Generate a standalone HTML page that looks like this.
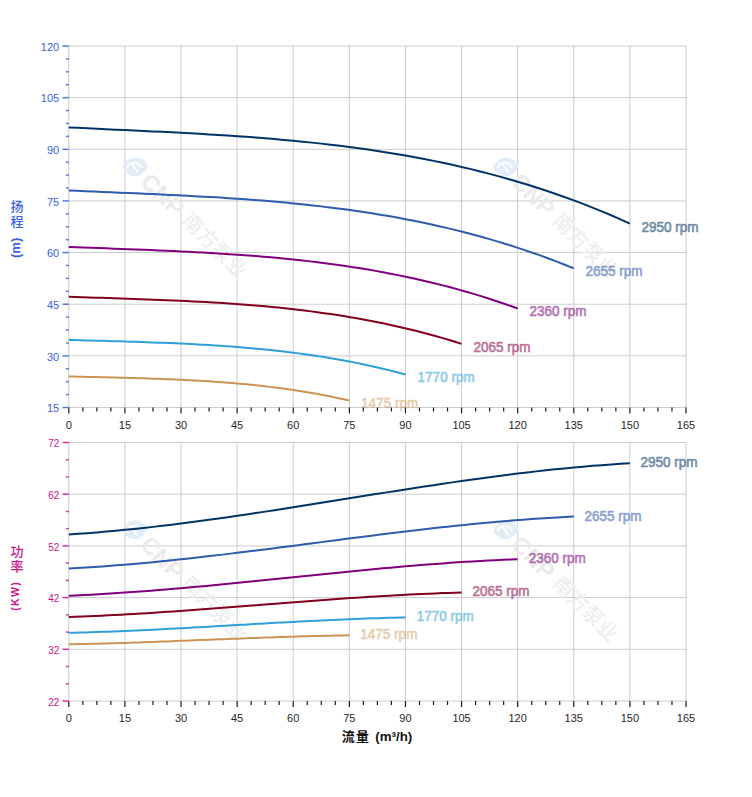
<!DOCTYPE html>
<html><head><meta charset="utf-8"><title>pump curves</title>
<style>html,body{margin:0;padding:0;background:#fff;}svg{display:block;}</style>
</head><body>
<svg width="752" height="797" viewBox="0 0 752 797">
<rect width="752" height="797" fill="#ffffff"/>
<g stroke="#cccccc" stroke-width="1"><line x1="68.30" y1="46.00" x2="686.50" y2="46.00"/><line x1="68.30" y1="97.64" x2="686.50" y2="97.64"/><line x1="68.30" y1="149.29" x2="686.50" y2="149.29"/><line x1="68.30" y1="200.93" x2="686.50" y2="200.93"/><line x1="68.30" y1="252.57" x2="686.50" y2="252.57"/><line x1="68.30" y1="304.21" x2="686.50" y2="304.21"/><line x1="68.30" y1="355.86" x2="686.50" y2="355.86"/><line x1="68.30" y1="407.50" x2="686.50" y2="407.50"/><line x1="68.80" y1="46.00" x2="68.80" y2="407.50"/><line x1="124.91" y1="46.00" x2="124.91" y2="407.50"/><line x1="181.02" y1="46.00" x2="181.02" y2="407.50"/><line x1="237.13" y1="46.00" x2="237.13" y2="407.50"/><line x1="293.24" y1="46.00" x2="293.24" y2="407.50"/><line x1="349.35" y1="46.00" x2="349.35" y2="407.50"/><line x1="405.45" y1="46.00" x2="405.45" y2="407.50"/><line x1="461.56" y1="46.00" x2="461.56" y2="407.50"/><line x1="517.67" y1="46.00" x2="517.67" y2="407.50"/><line x1="573.78" y1="46.00" x2="573.78" y2="407.50"/><line x1="629.89" y1="46.00" x2="629.89" y2="407.50"/><line x1="686.00" y1="46.00" x2="686.00" y2="407.50"/></g>
<g transform="translate(135.2 166.8)">
<path d="M-13 0.5 Q-7 -9.5 0 -9.5 Q9 -9.5 13 -0.5 Q7 9.5 0 9.5 Q-9 9.5 -13 0.5 Z" fill="#e3edf8"/>
<g fill="none" stroke="#ffffff" stroke-width="1.9" stroke-linecap="round"><path d="M-8 0.8 C-6.5 -5.2 3.5 -5.6 5.6 0.2"/><path d="M-3 -2.6 L2 4.8"/></g>
<g transform="rotate(45)">
<text x="14.4" y="8.6" font-family="Liberation Sans, sans-serif" font-weight="bold" font-size="23.5" fill="#ebebeb">CNP</text>
<text x="71" y="6.8" font-family="Noto Sans CJK SC, sans-serif" font-weight="500" font-size="20.5" fill="#eeeeee">南方泵业</text>
</g></g>
<g transform="translate(505.8 166.8)">
<path d="M-13 0.5 Q-7 -9.5 0 -9.5 Q9 -9.5 13 -0.5 Q7 9.5 0 9.5 Q-9 9.5 -13 0.5 Z" fill="#e3edf8"/>
<g fill="none" stroke="#ffffff" stroke-width="1.9" stroke-linecap="round"><path d="M-8 0.8 C-6.5 -5.2 3.5 -5.6 5.6 0.2"/><path d="M-3 -2.6 L2 4.8"/></g>
<g transform="rotate(45)">
<text x="14.4" y="8.6" font-family="Liberation Sans, sans-serif" font-weight="bold" font-size="23.5" fill="#ebebeb">CNP</text>
<text x="71" y="6.8" font-family="Noto Sans CJK SC, sans-serif" font-weight="500" font-size="20.5" fill="#eeeeee">南方泵业</text>
</g></g>
<path d="M68.80 127.40 L78.15 127.86 L87.50 128.32 L96.85 128.76 L106.21 129.21 L115.56 129.64 L124.91 130.08 L134.26 130.52 L143.61 130.96 L152.96 131.41 L162.32 131.87 L171.67 132.35 L181.02 132.83 L190.37 133.34 L199.72 133.86 L209.07 134.41 L218.42 134.98 L227.78 135.58 L237.13 136.21 L246.48 136.87 L255.83 137.56 L265.18 138.30 L274.53 139.07 L283.88 139.89 L293.24 140.75 L302.59 141.66 L311.94 142.62 L321.29 143.63 L330.64 144.70 L339.99 145.83 L349.35 147.02 L358.70 148.27 L368.05 149.59 L377.40 150.97 L386.75 152.43 L396.10 153.96 L405.45 155.56 L414.81 157.25 L424.16 159.01 L433.51 160.86 L442.86 162.80 L452.21 164.82 L461.56 166.94 L470.92 169.15 L480.27 171.45 L489.62 173.86 L498.97 176.36 L508.32 178.97 L517.67 181.69 L527.02 184.52 L536.38 187.46 L545.73 190.51 L555.08 193.68 L564.43 196.97 L573.78 200.38 L583.13 203.91 L592.48 207.58 L601.84 211.37 L611.19 215.29 L620.54 219.35 L629.89 223.55" fill="none" stroke="#003366" stroke-width="2" stroke-linejoin="round" stroke-linecap="butt"/>
<path d="M68.80 190.49 L77.22 190.86 L85.63 191.23 L94.05 191.59 L102.47 191.95 L110.88 192.31 L119.30 192.66 L127.71 193.02 L136.13 193.37 L144.55 193.74 L152.96 194.11 L161.38 194.49 L169.80 194.89 L178.21 195.30 L186.63 195.72 L195.05 196.16 L203.46 196.63 L211.88 197.11 L220.29 197.62 L228.71 198.16 L237.13 198.72 L245.54 199.31 L253.96 199.94 L262.38 200.60 L270.79 201.30 L279.21 202.04 L287.63 202.82 L296.04 203.64 L304.46 204.50 L312.87 205.42 L321.29 206.38 L329.71 207.39 L338.12 208.46 L346.54 209.58 L354.96 210.76 L363.37 212.00 L371.79 213.30 L380.21 214.66 L388.62 216.09 L397.04 217.59 L405.45 219.16 L413.87 220.80 L422.29 222.51 L430.70 224.30 L439.12 226.17 L447.54 228.12 L455.95 230.15 L464.37 232.26 L472.79 234.46 L481.20 236.75 L489.62 239.13 L498.03 241.61 L506.45 244.17 L514.87 246.84 L523.28 249.60 L531.70 252.46 L540.12 255.43 L548.53 258.50 L556.95 261.68 L565.37 264.97 L573.78 268.37" fill="none" stroke="#2f5bae" stroke-width="2" stroke-linejoin="round" stroke-linecap="butt"/>
<path d="M68.80 246.93 L76.28 247.23 L83.76 247.52 L91.24 247.81 L98.72 248.09 L106.21 248.37 L113.69 248.65 L121.17 248.93 L128.65 249.22 L136.13 249.50 L143.61 249.80 L151.09 250.10 L158.57 250.41 L166.06 250.74 L173.54 251.07 L181.02 251.42 L188.50 251.79 L195.98 252.17 L203.46 252.57 L210.94 252.99 L218.42 253.44 L225.91 253.91 L233.39 254.40 L240.87 254.93 L248.35 255.48 L255.83 256.06 L263.31 256.68 L270.79 257.32 L278.27 258.01 L285.76 258.73 L293.24 259.49 L300.72 260.29 L308.20 261.13 L315.68 262.02 L323.16 262.95 L330.64 263.93 L338.12 264.96 L345.60 266.04 L353.09 267.17 L360.57 268.35 L368.05 269.59 L375.53 270.88 L383.01 272.24 L390.49 273.65 L397.97 275.13 L405.45 276.67 L412.94 278.27 L420.42 279.94 L427.90 281.68 L435.38 283.49 L442.86 285.37 L450.34 287.32 L457.82 289.35 L465.30 291.46 L472.79 293.64 L480.27 295.90 L487.75 298.25 L495.23 300.68 L502.71 303.19 L510.19 305.79 L517.67 308.47" fill="none" stroke="#800080" stroke-width="2" stroke-linejoin="round" stroke-linecap="butt"/>
<path d="M68.80 296.74 L75.35 296.97 L81.89 297.19 L88.44 297.41 L94.98 297.63 L101.53 297.84 L108.08 298.06 L114.62 298.27 L121.17 298.49 L127.71 298.71 L134.26 298.93 L140.81 299.17 L147.35 299.40 L153.90 299.65 L160.44 299.91 L166.99 300.18 L173.54 300.46 L180.08 300.75 L186.63 301.06 L193.18 301.38 L199.72 301.72 L206.27 302.08 L212.81 302.46 L219.36 302.86 L225.91 303.28 L232.45 303.73 L239.00 304.20 L245.54 304.70 L252.09 305.22 L258.64 305.77 L265.18 306.35 L271.73 306.97 L278.27 307.61 L284.82 308.29 L291.37 309.01 L297.91 309.75 L304.46 310.54 L311.00 311.37 L317.55 312.23 L324.10 313.14 L330.64 314.09 L337.19 315.08 L343.73 316.11 L350.28 317.20 L356.83 318.33 L363.37 319.51 L369.92 320.73 L376.46 322.01 L383.01 323.34 L389.56 324.73 L396.10 326.17 L402.65 327.66 L409.20 329.22 L415.74 330.83 L422.29 332.50 L428.83 334.23 L435.38 336.03 L441.93 337.89 L448.47 339.81 L455.02 341.80 L461.56 343.86" fill="none" stroke="#830020" stroke-width="2" stroke-linejoin="round" stroke-linecap="butt"/>
<path d="M68.80 339.91 L74.41 340.07 L80.02 340.24 L85.63 340.40 L91.24 340.56 L96.85 340.72 L102.47 340.87 L108.08 341.03 L113.69 341.19 L119.30 341.35 L124.91 341.52 L130.52 341.69 L136.13 341.86 L141.74 342.04 L147.35 342.23 L152.96 342.43 L158.57 342.64 L164.19 342.85 L169.80 343.08 L175.41 343.32 L181.02 343.57 L186.63 343.83 L192.24 344.11 L197.85 344.40 L203.46 344.71 L209.07 345.04 L214.68 345.39 L220.29 345.75 L225.91 346.14 L231.52 346.54 L237.13 346.97 L242.74 347.42 L248.35 347.89 L253.96 348.39 L259.57 348.92 L265.18 349.47 L270.79 350.05 L276.40 350.65 L282.01 351.29 L287.63 351.95 L293.24 352.65 L298.85 353.38 L304.46 354.14 L310.07 354.94 L315.68 355.77 L321.29 356.63 L326.90 357.53 L332.51 358.47 L338.12 359.45 L343.73 360.47 L349.35 361.53 L354.96 362.63 L360.57 363.77 L366.18 364.95 L371.79 366.18 L377.40 367.45 L383.01 368.77 L388.62 370.14 L394.23 371.55 L399.84 373.01 L405.45 374.52" fill="none" stroke="#2ea0d8" stroke-width="2" stroke-linejoin="round" stroke-linecap="butt"/>
<path d="M68.80 376.43 L73.48 376.55 L78.15 376.66 L82.83 376.77 L87.50 376.88 L92.18 376.99 L96.85 377.10 L101.53 377.21 L106.21 377.32 L110.88 377.44 L115.56 377.55 L120.23 377.67 L124.91 377.79 L129.58 377.92 L134.26 378.05 L138.94 378.18 L143.61 378.33 L148.29 378.48 L152.96 378.63 L157.64 378.80 L162.32 378.97 L166.99 379.16 L171.67 379.35 L176.34 379.55 L181.02 379.77 L185.69 380.00 L190.37 380.24 L195.05 380.49 L199.72 380.76 L204.40 381.04 L209.07 381.34 L213.75 381.65 L218.42 381.98 L223.10 382.32 L227.78 382.69 L232.45 383.07 L237.13 383.47 L241.80 383.89 L246.48 384.34 L251.15 384.80 L255.83 385.28 L260.51 385.79 L265.18 386.32 L269.86 386.87 L274.53 387.44 L279.21 388.05 L283.88 388.67 L288.56 389.33 L293.24 390.00 L297.91 390.71 L302.59 391.45 L307.26 392.21 L311.94 393.00 L316.62 393.82 L321.29 394.68 L325.97 395.56 L330.64 396.48 L335.32 397.42 L339.99 398.41 L344.67 399.42 L349.35 400.47" fill="none" stroke="#cd9555" stroke-width="2" stroke-linejoin="round" stroke-linecap="butt"/>
<text x="641.4" y="232.2" font-family="Liberation Sans, Arial, sans-serif" font-size="14" font-weight="normal" fill="#003366" stroke="#003366" stroke-width="0.6" opacity="0.57" textLength="57.1" lengthAdjust="spacingAndGlyphs">2950 rpm</text>
<text x="585.5" y="276.1" font-family="Liberation Sans, Arial, sans-serif" font-size="14" font-weight="normal" fill="#2f5bae" stroke="#2f5bae" stroke-width="0.6" opacity="0.57" textLength="57.1" lengthAdjust="spacingAndGlyphs">2655 rpm</text>
<text x="529.5" y="315.9" font-family="Liberation Sans, Arial, sans-serif" font-size="14" font-weight="normal" fill="#800080" stroke="#800080" stroke-width="0.6" opacity="0.57" textLength="57.1" lengthAdjust="spacingAndGlyphs">2360 rpm</text>
<text x="473.4" y="352.2" font-family="Liberation Sans, Arial, sans-serif" font-size="14" font-weight="normal" fill="#8c0046" stroke="#8c0046" stroke-width="0.6" opacity="0.57" textLength="57.1" lengthAdjust="spacingAndGlyphs">2065 rpm</text>
<text x="417.6" y="382.1" font-family="Liberation Sans, Arial, sans-serif" font-size="14" font-weight="normal" fill="#2ea0d8" stroke="#2ea0d8" stroke-width="0.6" opacity="0.55" textLength="57.1" lengthAdjust="spacingAndGlyphs">1770 rpm</text>
<text x="361.1" y="407.8" font-family="Liberation Sans, Arial, sans-serif" font-size="14" font-weight="normal" fill="#cd9555" stroke="#cd9555" stroke-width="0.6" opacity="0.47" textLength="57.1" lengthAdjust="spacingAndGlyphs">1475 rpm</text>
<g stroke="#1a1a1a" stroke-width="1.2"><line x1="68.80" y1="407.50" x2="68.80" y2="413.50"/><line x1="82.83" y1="407.50" x2="82.83" y2="411.50"/><line x1="96.85" y1="407.50" x2="96.85" y2="411.50"/><line x1="110.88" y1="407.50" x2="110.88" y2="411.50"/><line x1="124.91" y1="407.50" x2="124.91" y2="413.50"/><line x1="138.94" y1="407.50" x2="138.94" y2="411.50"/><line x1="152.96" y1="407.50" x2="152.96" y2="411.50"/><line x1="166.99" y1="407.50" x2="166.99" y2="411.50"/><line x1="181.02" y1="407.50" x2="181.02" y2="413.50"/><line x1="195.05" y1="407.50" x2="195.05" y2="411.50"/><line x1="209.07" y1="407.50" x2="209.07" y2="411.50"/><line x1="223.10" y1="407.50" x2="223.10" y2="411.50"/><line x1="237.13" y1="407.50" x2="237.13" y2="413.50"/><line x1="251.15" y1="407.50" x2="251.15" y2="411.50"/><line x1="265.18" y1="407.50" x2="265.18" y2="411.50"/><line x1="279.21" y1="407.50" x2="279.21" y2="411.50"/><line x1="293.24" y1="407.50" x2="293.24" y2="413.50"/><line x1="307.26" y1="407.50" x2="307.26" y2="411.50"/><line x1="321.29" y1="407.50" x2="321.29" y2="411.50"/><line x1="335.32" y1="407.50" x2="335.32" y2="411.50"/><line x1="349.35" y1="407.50" x2="349.35" y2="413.50"/><line x1="363.37" y1="407.50" x2="363.37" y2="411.50"/><line x1="377.40" y1="407.50" x2="377.40" y2="411.50"/><line x1="391.43" y1="407.50" x2="391.43" y2="411.50"/><line x1="405.45" y1="407.50" x2="405.45" y2="413.50"/><line x1="419.48" y1="407.50" x2="419.48" y2="411.50"/><line x1="433.51" y1="407.50" x2="433.51" y2="411.50"/><line x1="447.54" y1="407.50" x2="447.54" y2="411.50"/><line x1="461.56" y1="407.50" x2="461.56" y2="413.50"/><line x1="475.59" y1="407.50" x2="475.59" y2="411.50"/><line x1="489.62" y1="407.50" x2="489.62" y2="411.50"/><line x1="503.65" y1="407.50" x2="503.65" y2="411.50"/><line x1="517.67" y1="407.50" x2="517.67" y2="413.50"/><line x1="531.70" y1="407.50" x2="531.70" y2="411.50"/><line x1="545.73" y1="407.50" x2="545.73" y2="411.50"/><line x1="559.75" y1="407.50" x2="559.75" y2="411.50"/><line x1="573.78" y1="407.50" x2="573.78" y2="413.50"/><line x1="587.81" y1="407.50" x2="587.81" y2="411.50"/><line x1="601.84" y1="407.50" x2="601.84" y2="411.50"/><line x1="615.86" y1="407.50" x2="615.86" y2="411.50"/><line x1="629.89" y1="407.50" x2="629.89" y2="413.50"/><line x1="643.92" y1="407.50" x2="643.92" y2="411.50"/><line x1="657.95" y1="407.50" x2="657.95" y2="411.50"/><line x1="671.97" y1="407.50" x2="671.97" y2="411.50"/><line x1="686.00" y1="407.50" x2="686.00" y2="413.50"/></g>
<g stroke="#3a5fe3" stroke-width="1.5" stroke-opacity="0.85"><line x1="62.50" y1="46.00" x2="68.80" y2="46.00"/><line x1="66.00" y1="58.91" x2="68.80" y2="58.91"/><line x1="66.00" y1="71.82" x2="68.80" y2="71.82"/><line x1="66.00" y1="84.73" x2="68.80" y2="84.73"/><line x1="62.50" y1="97.64" x2="68.80" y2="97.64"/><line x1="66.00" y1="110.55" x2="68.80" y2="110.55"/><line x1="66.00" y1="123.46" x2="68.80" y2="123.46"/><line x1="66.00" y1="136.38" x2="68.80" y2="136.38"/><line x1="62.50" y1="149.29" x2="68.80" y2="149.29"/><line x1="66.00" y1="162.20" x2="68.80" y2="162.20"/><line x1="66.00" y1="175.11" x2="68.80" y2="175.11"/><line x1="66.00" y1="188.02" x2="68.80" y2="188.02"/><line x1="62.50" y1="200.93" x2="68.80" y2="200.93"/><line x1="66.00" y1="213.84" x2="68.80" y2="213.84"/><line x1="66.00" y1="226.75" x2="68.80" y2="226.75"/><line x1="66.00" y1="239.66" x2="68.80" y2="239.66"/><line x1="62.50" y1="252.57" x2="68.80" y2="252.57"/><line x1="66.00" y1="265.48" x2="68.80" y2="265.48"/><line x1="66.00" y1="278.39" x2="68.80" y2="278.39"/><line x1="66.00" y1="291.30" x2="68.80" y2="291.30"/><line x1="62.50" y1="304.21" x2="68.80" y2="304.21"/><line x1="66.00" y1="317.12" x2="68.80" y2="317.12"/><line x1="66.00" y1="330.04" x2="68.80" y2="330.04"/><line x1="66.00" y1="342.95" x2="68.80" y2="342.95"/><line x1="62.50" y1="355.86" x2="68.80" y2="355.86"/><line x1="66.00" y1="368.77" x2="68.80" y2="368.77"/><line x1="66.00" y1="381.68" x2="68.80" y2="381.68"/><line x1="66.00" y1="394.59" x2="68.80" y2="394.59"/><line x1="62.50" y1="407.50" x2="68.80" y2="407.50"/></g>
<text x="59.2" y="50.7" font-family="Liberation Sans, Arial, sans-serif" font-size="11" fill="#3a5fe3" text-anchor="end">120</text>
<text x="59.2" y="102.3" font-family="Liberation Sans, Arial, sans-serif" font-size="11" fill="#3a5fe3" text-anchor="end">105</text>
<text x="59.2" y="154.0" font-family="Liberation Sans, Arial, sans-serif" font-size="11" fill="#3a5fe3" text-anchor="end">90</text>
<text x="59.2" y="205.6" font-family="Liberation Sans, Arial, sans-serif" font-size="11" fill="#3a5fe3" text-anchor="end">75</text>
<text x="59.2" y="257.3" font-family="Liberation Sans, Arial, sans-serif" font-size="11" fill="#3a5fe3" text-anchor="end">60</text>
<text x="59.2" y="308.9" font-family="Liberation Sans, Arial, sans-serif" font-size="11" fill="#3a5fe3" text-anchor="end">45</text>
<text x="59.2" y="360.6" font-family="Liberation Sans, Arial, sans-serif" font-size="11" fill="#3a5fe3" text-anchor="end">30</text>
<text x="59.2" y="412.2" font-family="Liberation Sans, Arial, sans-serif" font-size="11" fill="#3a5fe3" text-anchor="end">15</text>
<text x="68.80" y="428.8" font-family="Liberation Sans, Arial, sans-serif" font-size="11" fill="#262626" text-anchor="middle">0</text>
<text x="124.91" y="428.8" font-family="Liberation Sans, Arial, sans-serif" font-size="11" fill="#262626" text-anchor="middle">15</text>
<text x="181.02" y="428.8" font-family="Liberation Sans, Arial, sans-serif" font-size="11" fill="#262626" text-anchor="middle">30</text>
<text x="237.13" y="428.8" font-family="Liberation Sans, Arial, sans-serif" font-size="11" fill="#262626" text-anchor="middle">45</text>
<text x="293.24" y="428.8" font-family="Liberation Sans, Arial, sans-serif" font-size="11" fill="#262626" text-anchor="middle">60</text>
<text x="349.35" y="428.8" font-family="Liberation Sans, Arial, sans-serif" font-size="11" fill="#262626" text-anchor="middle">75</text>
<text x="405.45" y="428.8" font-family="Liberation Sans, Arial, sans-serif" font-size="11" fill="#262626" text-anchor="middle">90</text>
<text x="461.56" y="428.8" font-family="Liberation Sans, Arial, sans-serif" font-size="11" fill="#262626" text-anchor="middle">105</text>
<text x="517.67" y="428.8" font-family="Liberation Sans, Arial, sans-serif" font-size="11" fill="#262626" text-anchor="middle">120</text>
<text x="573.78" y="428.8" font-family="Liberation Sans, Arial, sans-serif" font-size="11" fill="#262626" text-anchor="middle">135</text>
<text x="629.89" y="428.8" font-family="Liberation Sans, Arial, sans-serif" font-size="11" fill="#262626" text-anchor="middle">150</text>
<text x="686.00" y="428.8" font-family="Liberation Sans, Arial, sans-serif" font-size="11" fill="#262626" text-anchor="middle">165</text>
<text font-family="Liberation Sans, Noto Sans CJK SC, sans-serif" font-size="13" font-weight="500" fill="#3a5fe3"><tspan x="10.6" y="210.8">扬</tspan><tspan x="10.6" y="225.8">程</tspan></text>
<text transform="translate(20.3 258) rotate(-90)" font-family="Liberation Sans, Arial, sans-serif" font-size="13" font-weight="bold" fill="#3a5fe3">(m)</text>
<g stroke="#cccccc" stroke-width="1"><line x1="68.30" y1="442.50" x2="686.50" y2="442.50"/><line x1="68.30" y1="494.20" x2="686.50" y2="494.20"/><line x1="68.30" y1="545.90" x2="686.50" y2="545.90"/><line x1="68.30" y1="597.60" x2="686.50" y2="597.60"/><line x1="68.30" y1="649.30" x2="686.50" y2="649.30"/><line x1="68.30" y1="701.00" x2="686.50" y2="701.00"/><line x1="68.80" y1="442.50" x2="68.80" y2="701.00"/><line x1="124.91" y1="442.50" x2="124.91" y2="701.00"/><line x1="181.02" y1="442.50" x2="181.02" y2="701.00"/><line x1="237.13" y1="442.50" x2="237.13" y2="701.00"/><line x1="293.24" y1="442.50" x2="293.24" y2="701.00"/><line x1="349.35" y1="442.50" x2="349.35" y2="701.00"/><line x1="405.45" y1="442.50" x2="405.45" y2="701.00"/><line x1="461.56" y1="442.50" x2="461.56" y2="701.00"/><line x1="517.67" y1="442.50" x2="517.67" y2="701.00"/><line x1="573.78" y1="442.50" x2="573.78" y2="701.00"/><line x1="629.89" y1="442.50" x2="629.89" y2="701.00"/><line x1="686.00" y1="442.50" x2="686.00" y2="701.00"/></g>
<g transform="translate(134.8 529.8)">
<path d="M-13 0.5 Q-7 -9.5 0 -9.5 Q9 -9.5 13 -0.5 Q7 9.5 0 9.5 Q-9 9.5 -13 0.5 Z" fill="#e3edf8"/>
<g fill="none" stroke="#ffffff" stroke-width="1.9" stroke-linecap="round"><path d="M-8 0.8 C-6.5 -5.2 3.5 -5.6 5.6 0.2"/><path d="M-3 -2.6 L2 4.8"/></g>
<g transform="rotate(45)">
<text x="14.4" y="8.6" font-family="Liberation Sans, sans-serif" font-weight="bold" font-size="23.5" fill="#ebebeb">CNP</text>
<text x="71" y="6.8" font-family="Noto Sans CJK SC, sans-serif" font-weight="500" font-size="20.5" fill="#eeeeee">南方泵业</text>
</g></g>
<g transform="translate(506.0 529.8)">
<path d="M-13 0.5 Q-7 -9.5 0 -9.5 Q9 -9.5 13 -0.5 Q7 9.5 0 9.5 Q-9 9.5 -13 0.5 Z" fill="#e3edf8"/>
<g fill="none" stroke="#ffffff" stroke-width="1.9" stroke-linecap="round"><path d="M-8 0.8 C-6.5 -5.2 3.5 -5.6 5.6 0.2"/><path d="M-3 -2.6 L2 4.8"/></g>
<g transform="rotate(45)">
<text x="14.4" y="8.6" font-family="Liberation Sans, sans-serif" font-weight="bold" font-size="23.5" fill="#ebebeb">CNP</text>
<text x="71" y="6.8" font-family="Noto Sans CJK SC, sans-serif" font-weight="500" font-size="20.5" fill="#eeeeee">南方泵业</text>
</g></g>
<path d="M68.80 534.47 L78.15 533.85 L87.50 533.16 L96.85 532.42 L106.21 531.62 L115.56 530.77 L124.91 529.86 L134.26 528.91 L143.61 527.91 L152.96 526.87 L162.32 525.78 L171.67 524.66 L181.02 523.49 L190.37 522.29 L199.72 521.06 L209.07 519.79 L218.42 518.49 L227.78 517.17 L237.13 515.81 L246.48 514.44 L255.83 513.04 L265.18 511.63 L274.53 510.19 L283.88 508.74 L293.24 507.28 L302.59 505.80 L311.94 504.32 L321.29 502.83 L330.64 501.33 L339.99 499.84 L349.35 498.34 L358.70 496.84 L368.05 495.34 L377.40 493.85 L386.75 492.37 L396.10 490.90 L405.45 489.44 L414.81 487.99 L424.16 486.56 L433.51 485.15 L442.86 483.75 L452.21 482.38 L461.56 481.03 L470.92 479.71 L480.27 478.42 L489.62 477.16 L498.97 475.93 L508.32 474.73 L517.67 473.57 L527.02 472.45 L536.38 471.37 L545.73 470.34 L555.08 469.35 L564.43 468.40 L573.78 467.51 L583.13 466.66 L592.48 465.87 L601.84 465.14 L611.19 464.46 L620.54 463.84 L629.89 463.29" fill="none" stroke="#003366" stroke-width="2" stroke-linejoin="round"/>
<path d="M68.80 568.48 L77.22 568.02 L85.63 567.52 L94.05 566.98 L102.47 566.39 L110.88 565.77 L119.30 565.11 L127.71 564.42 L136.13 563.69 L144.55 562.93 L152.96 562.14 L161.38 561.32 L169.80 560.47 L178.21 559.59 L186.63 558.69 L195.05 557.77 L203.46 556.82 L211.88 555.86 L220.29 554.87 L228.71 553.87 L237.13 552.85 L245.54 551.82 L253.96 550.77 L262.38 549.72 L270.79 548.65 L279.21 547.58 L287.63 546.49 L296.04 545.41 L304.46 544.32 L312.87 543.22 L321.29 542.13 L329.71 541.04 L338.12 539.95 L346.54 538.86 L354.96 537.78 L363.37 536.71 L371.79 535.64 L380.21 534.59 L388.62 533.55 L397.04 532.52 L405.45 531.50 L413.87 530.50 L422.29 529.52 L430.70 528.55 L439.12 527.61 L447.54 526.69 L455.95 525.79 L464.37 524.92 L472.79 524.08 L481.20 523.26 L489.62 522.48 L498.03 521.72 L506.45 521.00 L514.87 520.31 L523.28 519.66 L531.70 519.04 L540.12 518.47 L548.53 517.93 L556.95 517.44 L565.37 516.99 L573.78 516.58" fill="none" stroke="#2f5bae" stroke-width="2" stroke-linejoin="round"/>
<path d="M68.80 595.70 L76.28 595.38 L83.76 595.03 L91.24 594.65 L98.72 594.24 L106.21 593.80 L113.69 593.34 L121.17 592.85 L128.65 592.34 L136.13 591.81 L143.61 591.25 L151.09 590.67 L158.57 590.08 L166.06 589.46 L173.54 588.83 L181.02 588.18 L188.50 587.52 L195.98 586.84 L203.46 586.15 L210.94 585.44 L218.42 584.73 L225.91 584.00 L233.39 583.27 L240.87 582.53 L248.35 581.78 L255.83 581.02 L263.31 580.26 L270.79 579.50 L278.27 578.73 L285.76 577.97 L293.24 577.20 L300.72 576.43 L308.20 575.67 L315.68 574.90 L323.16 574.14 L330.64 573.39 L338.12 572.64 L345.60 571.90 L353.09 571.17 L360.57 570.45 L368.05 569.73 L375.53 569.03 L383.01 568.34 L390.49 567.66 L397.97 567.00 L405.45 566.36 L412.94 565.73 L420.42 565.11 L427.90 564.52 L435.38 563.95 L442.86 563.39 L450.34 562.86 L457.82 562.36 L465.30 561.87 L472.79 561.42 L480.27 560.98 L487.75 560.58 L495.23 560.20 L502.71 559.86 L510.19 559.54 L517.67 559.25" fill="none" stroke="#800080" stroke-width="2" stroke-linejoin="round"/>
<path d="M68.80 616.91 L75.35 616.69 L81.89 616.45 L88.44 616.20 L94.98 615.93 L101.53 615.63 L108.08 615.32 L114.62 615.00 L121.17 614.65 L127.71 614.30 L134.26 613.92 L140.81 613.54 L147.35 613.14 L153.90 612.73 L160.44 612.30 L166.99 611.87 L173.54 611.42 L180.08 610.97 L186.63 610.50 L193.18 610.03 L199.72 609.55 L206.27 609.07 L212.81 608.58 L219.36 608.08 L225.91 607.58 L232.45 607.07 L239.00 606.56 L245.54 606.05 L252.09 605.54 L258.64 605.02 L265.18 604.51 L271.73 604.00 L278.27 603.48 L284.82 602.97 L291.37 602.46 L297.91 601.96 L304.46 601.46 L311.00 600.96 L317.55 600.47 L324.10 599.99 L330.64 599.51 L337.19 599.04 L343.73 598.58 L350.28 598.12 L356.83 597.68 L363.37 597.25 L369.92 596.82 L376.46 596.41 L383.01 596.02 L389.56 595.63 L396.10 595.26 L402.65 594.91 L409.20 594.57 L415.74 594.24 L422.29 593.94 L428.83 593.65 L435.38 593.38 L441.93 593.12 L448.47 592.89 L455.02 592.68 L461.56 592.49" fill="none" stroke="#830020" stroke-width="2" stroke-linejoin="round"/>
<path d="M68.80 632.84 L74.41 632.70 L80.02 632.56 L85.63 632.39 L91.24 632.22 L96.85 632.04 L102.47 631.84 L108.08 631.64 L113.69 631.42 L119.30 631.20 L124.91 630.96 L130.52 630.72 L136.13 630.47 L141.74 630.21 L147.35 629.94 L152.96 629.67 L158.57 629.39 L164.19 629.10 L169.80 628.81 L175.41 628.51 L181.02 628.21 L186.63 627.90 L192.24 627.59 L197.85 627.28 L203.46 626.97 L209.07 626.65 L214.68 626.33 L220.29 626.00 L225.91 625.68 L231.52 625.36 L237.13 625.03 L242.74 624.71 L248.35 624.39 L253.96 624.07 L259.57 623.75 L265.18 623.43 L270.79 623.11 L276.40 622.80 L282.01 622.49 L287.63 622.18 L293.24 621.88 L298.85 621.59 L304.46 621.30 L310.07 621.01 L315.68 620.73 L321.29 620.46 L326.90 620.19 L332.51 619.94 L338.12 619.68 L343.73 619.44 L349.35 619.21 L354.96 618.99 L360.57 618.77 L366.18 618.57 L371.79 618.37 L377.40 618.19 L383.01 618.02 L388.62 617.86 L394.23 617.72 L399.84 617.58 L405.45 617.46" fill="none" stroke="#2ea0d8" stroke-width="2" stroke-linejoin="round"/>
<path d="M68.80 644.26 L73.48 644.18 L78.15 644.09 L82.83 644.00 L87.50 643.90 L92.18 643.79 L96.85 643.68 L101.53 643.56 L106.21 643.44 L110.88 643.31 L115.56 643.17 L120.23 643.03 L124.91 642.88 L129.58 642.73 L134.26 642.58 L138.94 642.42 L143.61 642.26 L148.29 642.09 L152.96 641.92 L157.64 641.75 L162.32 641.58 L166.99 641.40 L171.67 641.22 L176.34 641.04 L181.02 640.86 L185.69 640.67 L190.37 640.49 L195.05 640.30 L199.72 640.11 L204.40 639.93 L209.07 639.74 L213.75 639.55 L218.42 639.37 L223.10 639.18 L227.78 638.99 L232.45 638.81 L237.13 638.63 L241.80 638.45 L246.48 638.27 L251.15 638.09 L255.83 637.92 L260.51 637.75 L265.18 637.58 L269.86 637.41 L274.53 637.25 L279.21 637.09 L283.88 636.94 L288.56 636.79 L293.24 636.64 L297.91 636.50 L302.59 636.37 L307.26 636.24 L311.94 636.12 L316.62 636.00 L321.29 635.89 L325.97 635.78 L330.64 635.68 L335.32 635.59 L339.99 635.51 L344.67 635.43 L349.35 635.36" fill="none" stroke="#cd9555" stroke-width="2" stroke-linejoin="round"/>
<text x="640.5" y="467.2" font-family="Liberation Sans, Arial, sans-serif" font-size="14" font-weight="normal" fill="#003366" stroke="#003366" stroke-width="0.6" opacity="0.57" textLength="57.1" lengthAdjust="spacingAndGlyphs">2950 rpm</text>
<text x="584.5" y="521.0" font-family="Liberation Sans, Arial, sans-serif" font-size="14" font-weight="normal" fill="#2f5bae" stroke="#2f5bae" stroke-width="0.6" opacity="0.57" textLength="57.1" lengthAdjust="spacingAndGlyphs">2655 rpm</text>
<text x="528.7" y="563.1" font-family="Liberation Sans, Arial, sans-serif" font-size="14" font-weight="normal" fill="#800080" stroke="#800080" stroke-width="0.6" opacity="0.57" textLength="57.1" lengthAdjust="spacingAndGlyphs">2360 rpm</text>
<text x="472.5" y="596.4" font-family="Liberation Sans, Arial, sans-serif" font-size="14" font-weight="normal" fill="#8c0046" stroke="#8c0046" stroke-width="0.6" opacity="0.57" textLength="57.1" lengthAdjust="spacingAndGlyphs">2065 rpm</text>
<text x="416.7" y="620.8" font-family="Liberation Sans, Arial, sans-serif" font-size="14" font-weight="normal" fill="#2ea0d8" stroke="#2ea0d8" stroke-width="0.6" opacity="0.55" textLength="57.1" lengthAdjust="spacingAndGlyphs">1770 rpm</text>
<text x="360.3" y="638.9" font-family="Liberation Sans, Arial, sans-serif" font-size="14" font-weight="normal" fill="#cd9555" stroke="#cd9555" stroke-width="0.6" opacity="0.47" textLength="57.1" lengthAdjust="spacingAndGlyphs">1475 rpm</text>
<g stroke="#1a1a1a" stroke-width="1.2"><line x1="68.80" y1="701.00" x2="68.80" y2="707.00"/><line x1="82.83" y1="701.00" x2="82.83" y2="705.00"/><line x1="96.85" y1="701.00" x2="96.85" y2="705.00"/><line x1="110.88" y1="701.00" x2="110.88" y2="705.00"/><line x1="124.91" y1="701.00" x2="124.91" y2="707.00"/><line x1="138.94" y1="701.00" x2="138.94" y2="705.00"/><line x1="152.96" y1="701.00" x2="152.96" y2="705.00"/><line x1="166.99" y1="701.00" x2="166.99" y2="705.00"/><line x1="181.02" y1="701.00" x2="181.02" y2="707.00"/><line x1="195.05" y1="701.00" x2="195.05" y2="705.00"/><line x1="209.07" y1="701.00" x2="209.07" y2="705.00"/><line x1="223.10" y1="701.00" x2="223.10" y2="705.00"/><line x1="237.13" y1="701.00" x2="237.13" y2="707.00"/><line x1="251.15" y1="701.00" x2="251.15" y2="705.00"/><line x1="265.18" y1="701.00" x2="265.18" y2="705.00"/><line x1="279.21" y1="701.00" x2="279.21" y2="705.00"/><line x1="293.24" y1="701.00" x2="293.24" y2="707.00"/><line x1="307.26" y1="701.00" x2="307.26" y2="705.00"/><line x1="321.29" y1="701.00" x2="321.29" y2="705.00"/><line x1="335.32" y1="701.00" x2="335.32" y2="705.00"/><line x1="349.35" y1="701.00" x2="349.35" y2="707.00"/><line x1="363.37" y1="701.00" x2="363.37" y2="705.00"/><line x1="377.40" y1="701.00" x2="377.40" y2="705.00"/><line x1="391.43" y1="701.00" x2="391.43" y2="705.00"/><line x1="405.45" y1="701.00" x2="405.45" y2="707.00"/><line x1="419.48" y1="701.00" x2="419.48" y2="705.00"/><line x1="433.51" y1="701.00" x2="433.51" y2="705.00"/><line x1="447.54" y1="701.00" x2="447.54" y2="705.00"/><line x1="461.56" y1="701.00" x2="461.56" y2="707.00"/><line x1="475.59" y1="701.00" x2="475.59" y2="705.00"/><line x1="489.62" y1="701.00" x2="489.62" y2="705.00"/><line x1="503.65" y1="701.00" x2="503.65" y2="705.00"/><line x1="517.67" y1="701.00" x2="517.67" y2="707.00"/><line x1="531.70" y1="701.00" x2="531.70" y2="705.00"/><line x1="545.73" y1="701.00" x2="545.73" y2="705.00"/><line x1="559.75" y1="701.00" x2="559.75" y2="705.00"/><line x1="573.78" y1="701.00" x2="573.78" y2="707.00"/><line x1="587.81" y1="701.00" x2="587.81" y2="705.00"/><line x1="601.84" y1="701.00" x2="601.84" y2="705.00"/><line x1="615.86" y1="701.00" x2="615.86" y2="705.00"/><line x1="629.89" y1="701.00" x2="629.89" y2="707.00"/><line x1="643.92" y1="701.00" x2="643.92" y2="705.00"/><line x1="657.95" y1="701.00" x2="657.95" y2="705.00"/><line x1="671.97" y1="701.00" x2="671.97" y2="705.00"/><line x1="686.00" y1="701.00" x2="686.00" y2="707.00"/></g>
<g stroke="#c8158c" stroke-width="1.5" stroke-opacity="0.85"><line x1="62.50" y1="442.50" x2="68.80" y2="442.50"/><line x1="66.00" y1="459.73" x2="68.80" y2="459.73"/><line x1="66.00" y1="476.97" x2="68.80" y2="476.97"/><line x1="62.50" y1="494.20" x2="68.80" y2="494.20"/><line x1="66.00" y1="511.43" x2="68.80" y2="511.43"/><line x1="66.00" y1="528.67" x2="68.80" y2="528.67"/><line x1="62.50" y1="545.90" x2="68.80" y2="545.90"/><line x1="66.00" y1="563.13" x2="68.80" y2="563.13"/><line x1="66.00" y1="580.37" x2="68.80" y2="580.37"/><line x1="62.50" y1="597.60" x2="68.80" y2="597.60"/><line x1="66.00" y1="614.83" x2="68.80" y2="614.83"/><line x1="66.00" y1="632.07" x2="68.80" y2="632.07"/><line x1="62.50" y1="649.30" x2="68.80" y2="649.30"/><line x1="66.00" y1="666.53" x2="68.80" y2="666.53"/><line x1="66.00" y1="683.77" x2="68.80" y2="683.77"/><line x1="62.50" y1="701.00" x2="68.80" y2="701.00"/></g>
<text x="59.3" y="447.2" font-family="Liberation Sans, Arial, sans-serif" font-size="10" fill="#c8158c" text-anchor="end">72</text>
<text x="59.3" y="498.9" font-family="Liberation Sans, Arial, sans-serif" font-size="10" fill="#c8158c" text-anchor="end">62</text>
<text x="59.3" y="550.6" font-family="Liberation Sans, Arial, sans-serif" font-size="10" fill="#c8158c" text-anchor="end">52</text>
<text x="59.3" y="602.4" font-family="Liberation Sans, Arial, sans-serif" font-size="10" fill="#c8158c" text-anchor="end">42</text>
<text x="59.3" y="654.0" font-family="Liberation Sans, Arial, sans-serif" font-size="10" fill="#c8158c" text-anchor="end">32</text>
<text x="59.3" y="705.8" font-family="Liberation Sans, Arial, sans-serif" font-size="10" fill="#c8158c" text-anchor="end">22</text>
<text x="68.80" y="721.6" font-family="Liberation Sans, Arial, sans-serif" font-size="11" fill="#262626" text-anchor="middle">0</text>
<text x="124.91" y="721.6" font-family="Liberation Sans, Arial, sans-serif" font-size="11" fill="#262626" text-anchor="middle">15</text>
<text x="181.02" y="721.6" font-family="Liberation Sans, Arial, sans-serif" font-size="11" fill="#262626" text-anchor="middle">30</text>
<text x="237.13" y="721.6" font-family="Liberation Sans, Arial, sans-serif" font-size="11" fill="#262626" text-anchor="middle">45</text>
<text x="293.24" y="721.6" font-family="Liberation Sans, Arial, sans-serif" font-size="11" fill="#262626" text-anchor="middle">60</text>
<text x="349.35" y="721.6" font-family="Liberation Sans, Arial, sans-serif" font-size="11" fill="#262626" text-anchor="middle">75</text>
<text x="405.45" y="721.6" font-family="Liberation Sans, Arial, sans-serif" font-size="11" fill="#262626" text-anchor="middle">90</text>
<text x="461.56" y="721.6" font-family="Liberation Sans, Arial, sans-serif" font-size="11" fill="#262626" text-anchor="middle">105</text>
<text x="517.67" y="721.6" font-family="Liberation Sans, Arial, sans-serif" font-size="11" fill="#262626" text-anchor="middle">120</text>
<text x="573.78" y="721.6" font-family="Liberation Sans, Arial, sans-serif" font-size="11" fill="#262626" text-anchor="middle">135</text>
<text x="629.89" y="721.6" font-family="Liberation Sans, Arial, sans-serif" font-size="11" fill="#262626" text-anchor="middle">150</text>
<text x="686.00" y="721.6" font-family="Liberation Sans, Arial, sans-serif" font-size="11" fill="#262626" text-anchor="middle">165</text>
<text font-family="Liberation Sans, Noto Sans CJK SC, sans-serif" font-size="13" font-weight="500" fill="#c8158c"><tspan x="10.6" y="556.0">功</tspan><tspan x="10.6" y="571.0">率</tspan></text>
<text transform="translate(18.8 610.7) rotate(-90)" font-family="Liberation Sans, Arial, sans-serif" font-size="10.6" font-weight="bold" fill="#c8158c" textLength="28.5" lengthAdjust="spacing">(KW)</text>
<text x="341.8" y="740.6" font-family="Liberation Sans, Noto Sans CJK SC, sans-serif" font-size="13" letter-spacing="1.3" font-weight="bold" fill="#111">流量</text>
<text x="375.3" y="741" font-family="Liberation Sans, Arial, sans-serif" font-size="13.3" font-weight="bold" fill="#111">(m³/h)</text>
</svg>
</body></html>
